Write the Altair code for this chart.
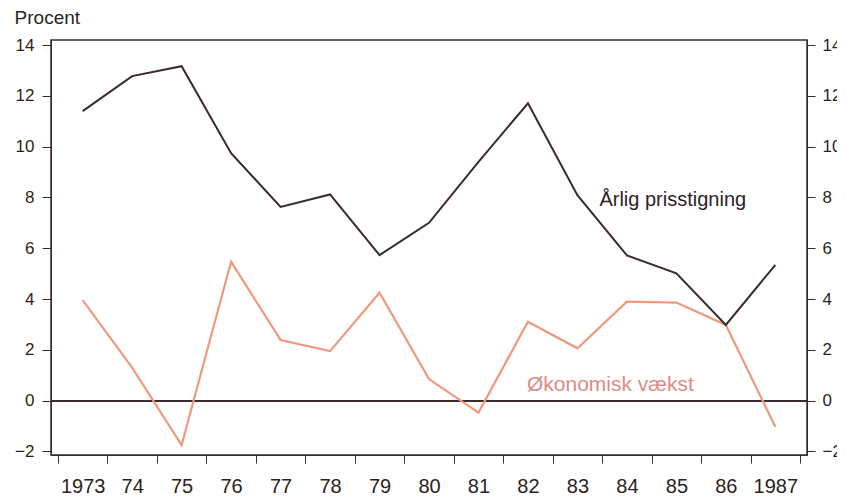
import altair as alt
import pandas as pd

years = ["1973", "74", "75", "76", "77", "78", "79", "80", "81", "82", "83", "84", "85", "86", "1987"]
prisstigning = [11.4, 12.78, 13.17, 9.74, 7.63, 8.12, 5.73, 7.0, 9.4, 11.71, 8.09, 5.72, 5.01, 2.98, 5.35]
vaekst = [3.96, 1.3, -1.75, 5.47, 2.39, 1.95, 4.25, 0.85, -0.47, 3.11, 2.06, 3.9, 3.86, 2.98, -1.03]
y_ticks = [-2, 0, 2, 4, 6, 8, 10, 12, 14]

ann_text = ["Årlig prisstigning", "Økonomisk vækst"]
ann_year = ["83", "83"]
ann_value = [7.9, 0.62]

df = pd.DataFrame({"year": years, "pris": prisstigning, "vaekst": vaekst})
ann = pd.DataFrame({"text": ann_text, "year": ann_year, "value": ann_value})

FONT = "Liberation Sans"
DARK = "#3a2a30"
ORANGE = "#ee9a7e"
DOMAIN = [-2.14, 14.2]
yscale = alt.Scale(domain=DOMAIN, nice=False, zero=False)

xscale = alt.Scale(type="band", paddingInner=0, paddingOuter=0.14)
xenc = alt.X("year:O", sort=years, scale=xscale,
             axis=alt.Axis(title=None, labelAngle=0, tickBand="extent", tickSize=8,
                           labelFontSize=20, labelPadding=13, labelColor="#2a1f22",
                           domainColor=DARK, tickColor=DARK, labelFont=FONT))

left = alt.Chart(df).mark_line(color=ORANGE, strokeWidth=2.2).encode(
    x=xenc,
    y=alt.Y("vaekst:Q", scale=yscale,
            axis=alt.Axis(title=None, orient="left", values=y_ticks, tickSize=9,
                          labelFontSize=17, labelPadding=8, labelColor="#2a1f22",
                          domainColor=DARK, tickColor=DARK, grid=False, labelFont=FONT,
                          labelExpr="datum.value < 0 ? '\u2212' + abs(datum.value) : datum.label")),
)

right = alt.Chart(df).mark_line(color=DARK, strokeWidth=2).encode(
    x=alt.X("year:O", sort=years, scale=xscale),
    y=alt.Y("pris:Q", scale=yscale,
            axis=alt.Axis(title=None, orient="right", values=y_ticks, tickSize=8,
                          labelFontSize=17, labelPadding=7, labelColor="#2a1f22",
                          domainColor=DARK, tickColor=DARK, grid=False, labelFont=FONT,
                          labelExpr="datum.value < 0 ? '\u2212' + abs(datum.value) : datum.label")),
)

zero = alt.Chart(df).mark_rule(color=DARK, strokeWidth=1.3).encode(
    y=alt.Y(datum=0, scale=yscale, axis=None)
)

ann1 = alt.Chart(ann.iloc[[0]]).mark_text(align="left", baseline="middle", dx=22,
                                         fontSize=20, font=FONT, color="#2e2226").encode(
    x=alt.X("year:O", sort=years, scale=xscale),
    y=alt.Y("value:Q", scale=yscale, axis=None),
    text="text:N",
)
ann2 = alt.Chart(ann.iloc[[1]]).mark_text(align="center", baseline="middle", dx=33,
                                         fontSize=21, font=FONT, color="#de8c84").encode(
    x=alt.X("year:O", sort=years, scale=xscale),
    y=alt.Y("value:Q", scale=yscale, axis=None),
    text="text:N",
)

chart = alt.layer(zero, left, right, ann1, ann2).resolve_scale(
    y="shared"
).resolve_axis(
    y="independent"
).properties(
    width=756,
    height=415,
    autosize=alt.AutoSizeParams(type="none"),
    padding={"left": 43, "top": 32, "right": 30, "bottom": 40},
    title=alt.TitleParams("Procent", anchor="start", frame="bounds", fontSize=19,
                          fontWeight="normal", font=FONT, color="#2a1f22", offset=8),
).configure_view(
    stroke=DARK, strokeWidth=1.5
)

chart.save("out.html", embed_options={"renderer": "svg", "actions": False})
